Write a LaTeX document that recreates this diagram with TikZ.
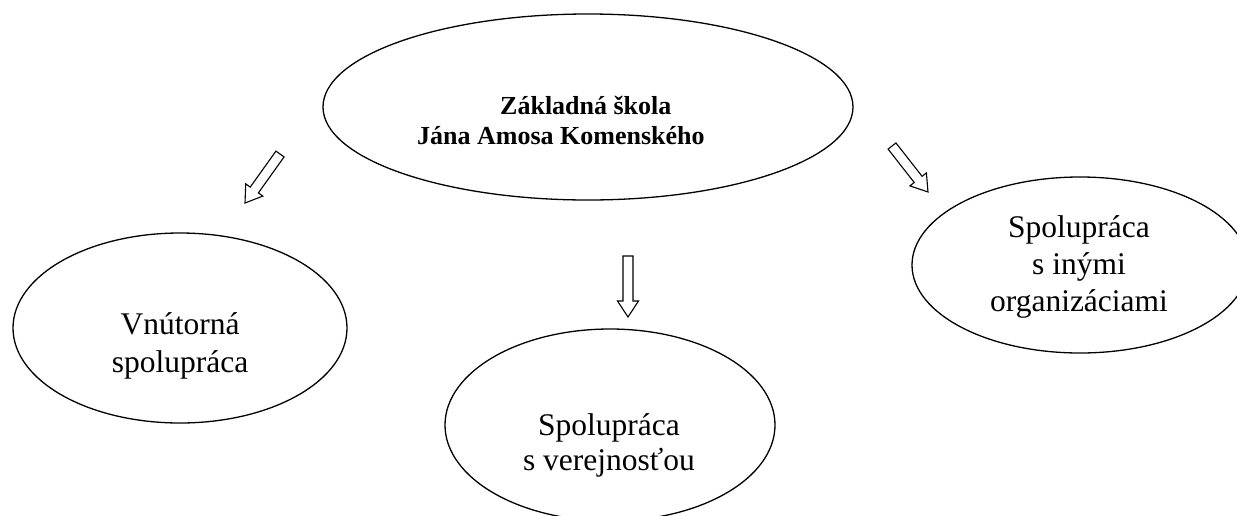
\documentclass[tikz,border=0pt]{standalone}
\usepackage{fontspec}
\setmainfont{Liberation Serif}
\usetikzlibrary{shapes.geometric,calc}
\tikzset{
  oval/.style={draw=black, line width=1.3pt, ellipse, inner sep=0pt},
  lbl/.style={align=center, inner sep=0pt},
  blockarr/.style={draw=black, line width=1.1pt, fill=white, line join=miter},
}
\newcommand\blockarrow[2]{%
  \coordinate (#1-hb) at ($(#2)!16pt!(#1)$);
  \draw[blockarr] ($(#1)!5pt!90:(#2)$) -- ($(#1-hb)!5pt!90:(#2)$) -- ($(#1-hb)!10.5pt!90:(#2)$) -- (#2) -- ($(#1-hb)!10.5pt!-90:(#2)$) -- ($(#1-hb)!5pt!-90:(#2)$) -- ($(#1)!5pt!-90:(#2)$) -- cycle;}
\begin{document}
\begin{tikzpicture}[x=1pt,y=-1pt]
\useasboundingbox (0,0) rectangle (1237,515);
% ellipses
\node[oval, minimum width=530pt, minimum height=186pt] (school) at (588,107) {};
\node[oval, minimum width=334pt, minimum height=190pt] (inner) at (180,328) {};
\node[oval, minimum width=330pt, minimum height=192pt] (public) at (610,425) {};
\node[oval, minimum width=336pt, minimum height=176pt] (orgs) at (1080,265) {};
% texts
\node[anchor=west, align=left, inner sep=0pt, font=\fontsize{26}{30}\selectfont\bfseries] (schooltext) at (417,120) {\hspace*{83pt}Základná škola\\Jána Amosa Komenského};
\node[lbl, font=\fontsize{31.5}{38}\selectfont] (innertext) at (180,346) {Vnútorná\\spolupráca};
\node[lbl, font=\fontsize{31.5}{35}\selectfont] (publictext) at (609,445) {Spolupráca\\s verejnosťou};
\node[lbl, font=\fontsize{31.5}{37}\selectfont] (orgstext) at (1079,267) {Spolupráca\\s inými\\organizáciami};
% block arrows
\coordinate (la1) at (280,154); \coordinate (la2) at (245,203);
\coordinate (ma1) at (628,256); \coordinate (ma2) at (628,317);
\coordinate (ra1) at (892,146); \coordinate (ra2) at (928,192);
\blockarrow{la1}{la2}
\blockarrow{ma1}{ma2}
\blockarrow{ra1}{ra2}
\end{tikzpicture}
\end{document}
